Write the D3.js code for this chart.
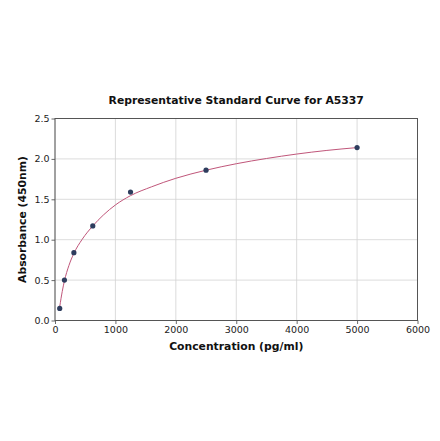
<!DOCTYPE html>
<html>
<head>
<meta charset="utf-8">
<script src="https://cdn.jsdelivr.net/npm/d3@7"></script>
<style>
  body { margin: 0; background: #fff; }
  svg { display: block; }
</style>
</head>
<body>
<svg id="chart" width="440" height="441"></svg>
<script>
var title = "Representative Standard Curve for A5337";
var xLabel = "Concentration (pg/ml)";
var yLabel = "Absorbance (450nm)";

// standards
var conc = [78.125, 156.25, 312.5, 625, 1250, 2500, 5000];
var absorb = [0.15, 0.50, 0.84, 1.17, 1.59, 1.86, 2.14];

// fitted curve
var fitConc = [78, 120, 156, 230, 312, 450, 625, 800, 1000, 1250, 1600, 2000, 2500, 3000, 3500, 4000, 4500, 5000];
var fitAbs = [0.17, 0.36, 0.49, 0.68, 0.83, 1.005, 1.17, 1.305, 1.43, 1.545, 1.655, 1.76, 1.86, 1.94, 2.005, 2.06, 2.105, 2.14];

var xTicks = [0, 1000, 2000, 3000, 4000, 5000, 6000];
var yTicks = [0.0, 0.5, 1.0, 1.5, 2.0, 2.5];

var svg = d3.select("#chart");
var mLeft = 55, mRight = 417.5, mTop = 118.5, mBottom = 320.5;

var x = d3.scaleLinear().domain([0, 6000]).range([mLeft, mRight]);
var y = d3.scaleLinear().domain([0, 2.5]).range([mBottom, mTop]);

// grid
svg.append("g").selectAll("line").data(xTicks).join("line")
	.attr("x1", d => x(d)).attr("x2", d => x(d))
	.attr("y1", mTop).attr("y2", mBottom)
	.attr("stroke", "#d3d3d3").attr("stroke-width", 0.8);
svg.append("g").selectAll("line").data(yTicks).join("line")
	.attr("x1", mLeft).attr("x2", mRight)
	.attr("y1", d => y(d)).attr("y2", d => y(d))
	.attr("stroke", "#d3d3d3").attr("stroke-width", 0.8);

// axes
var xAxis = svg.append("g")
	.attr("transform", "translate(0," + mBottom + ")")
	.call(d3.axisBottom(x).tickValues(xTicks).tickFormat(d3.format("d")).tickSize(3.5).tickPadding(2));
var yAxis = svg.append("g")
	.attr("transform", "translate(" + mLeft + ",0)")
	.call(d3.axisLeft(y).tickValues(yTicks).tickFormat(d3.format(".1f")).tickSize(3.5).tickPadding(2));

[xAxis, yAxis].forEach(function(a) {
	a.select(".domain").remove();
	a.selectAll("line").attr("stroke", "#444").attr("stroke-width", 0.8);
	a.selectAll("text")
		.attr("font-family", "DejaVu Sans")
		.attr("font-size", 9.5)
		.attr("fill", "#222");
});

// frame
svg.append("rect")
	.attr("x", mLeft).attr("y", mTop)
	.attr("width", mRight - mLeft).attr("height", mBottom - mTop)
	.attr("fill", "none").attr("stroke", "#555").attr("stroke-width", 1);

// curve
var line = d3.line()
	.x((d, i) => x(d))
	.y((d, i) => y(fitAbs[i]))
	.curve(d3.curveMonotoneX);
svg.append("path")
	.attr("d", line(fitConc))
	.attr("fill", "none")
	.attr("stroke", "#c0567a")
	.attr("stroke-width", 1);

// points
svg.append("g").selectAll("circle").data(conc).join("circle")
	.attr("cx", d => x(d))
	.attr("cy", (d, i) => y(absorb[i]))
	.attr("r", 2.6)
	.attr("fill", "#2e3d5e");

// texts
svg.append("text")
	.attr("x", (mLeft + mRight) / 2).attr("y", 104)
	.attr("text-anchor", "middle")
	.attr("font-family", "DejaVu Sans").attr("font-weight", "bold")
	.attr("font-size", 10.8).attr("fill", "#111")
	.text(title);
svg.append("text")
	.attr("x", (mLeft + mRight) / 2).attr("y", 350)
	.attr("text-anchor", "middle")
	.attr("font-family", "DejaVu Sans").attr("font-weight", "bold")
	.attr("font-size", 10.8).attr("fill", "#111")
	.text(xLabel);
svg.append("text")
	.attr("transform", "translate(26," + (mTop + mBottom) / 2 + ") rotate(-90)")
	.attr("text-anchor", "middle")
	.attr("font-family", "DejaVu Sans").attr("font-weight", "bold")
	.attr("font-size", 10.8).attr("fill", "#111")
	.text(yLabel);
</script>
</body>
</html>
